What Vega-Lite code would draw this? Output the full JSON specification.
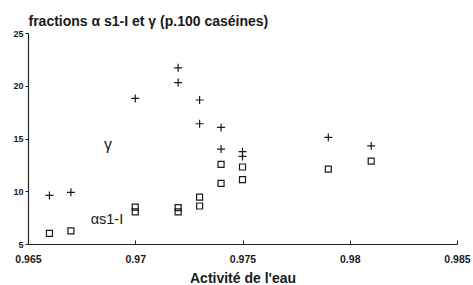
{
  "$schema": "https://vega.github.io/schema/vega-lite/v6.json",
  "autosize": "none",
  "width": 429,
  "height": 211,
  "padding": {"left": 28, "top": 33, "right": 16, "bottom": 41},
  "background": "white",
  "config": {
    "view": {"stroke": null},
    "axis": {
      "grid": false,
      "domainColor": "#222",
      "domainWidth": 1.2,
      "tickColor": "#222",
      "labelColor": "#1a1a1a",
      "titleColor": "#1a1a1a",
      "labelFont": "Liberation Sans",
      "titleFont": "Liberation Sans",
      "labelFontWeight": "bold",
      "titleFontWeight": "bold"
    }
  },
  "layer": [
    {
      "data": {
        "values": [
          {"aw": 0.966, "pct": 9.6, "fraction": "gamma"},
          {"aw": 0.967, "pct": 9.9, "fraction": "gamma"},
          {"aw": 0.970, "pct": 18.8, "fraction": "gamma"},
          {"aw": 0.972, "pct": 21.7, "fraction": "gamma"},
          {"aw": 0.972, "pct": 20.3, "fraction": "gamma"},
          {"aw": 0.973, "pct": 18.65, "fraction": "gamma"},
          {"aw": 0.973, "pct": 16.4, "fraction": "gamma"},
          {"aw": 0.974, "pct": 16.05, "fraction": "gamma"},
          {"aw": 0.974, "pct": 14.0, "fraction": "gamma"},
          {"aw": 0.975, "pct": 13.75, "fraction": "gamma"},
          {"aw": 0.975, "pct": 13.3, "fraction": "gamma"},
          {"aw": 0.979, "pct": 15.1, "fraction": "gamma"},
          {"aw": 0.981, "pct": 14.3, "fraction": "gamma"},
          {"aw": 0.966, "pct": 6.0, "fraction": "as1"},
          {"aw": 0.967, "pct": 6.25, "fraction": "as1"},
          {"aw": 0.970, "pct": 8.5, "fraction": "as1"},
          {"aw": 0.970, "pct": 8.05, "fraction": "as1"},
          {"aw": 0.972, "pct": 8.45, "fraction": "as1"},
          {"aw": 0.972, "pct": 8.05, "fraction": "as1"},
          {"aw": 0.973, "pct": 9.45, "fraction": "as1"},
          {"aw": 0.973, "pct": 8.6, "fraction": "as1"},
          {"aw": 0.974, "pct": 12.55, "fraction": "as1"},
          {"aw": 0.974, "pct": 10.75, "fraction": "as1"},
          {"aw": 0.975, "pct": 12.3, "fraction": "as1"},
          {"aw": 0.975, "pct": 11.1, "fraction": "as1"},
          {"aw": 0.979, "pct": 12.1, "fraction": "as1"},
          {"aw": 0.981, "pct": 12.85, "fraction": "as1"}
        ]
      },
      "mark": {"type": "point", "filled": false, "strokeWidth": 1.2, "color": "#1a1a1a", "opacity": 1},
      "encoding": {
        "x": {
          "field": "aw", "type": "quantitative",
          "scale": {"domain": [0.965, 0.985], "nice": false, "zero": false},
          "axis": {
            "values": [0.965, 0.97, 0.975, 0.98, 0.985],
            "format": "~g",
            "title": "Activité de l'eau",
            "titleFontSize": 14,
            "titlePadding": 7,
            "labelFontSize": 10.5,
            "labelPadding": 14,
            "tickSize": -4,
            "labelFlush": false
          }
        },
        "y": {
          "field": "pct", "type": "quantitative",
          "scale": {"domain": [5, 25], "nice": false, "zero": false},
          "axis": {
            "values": [5, 10, 15, 20, 25],
            "title": "fractions α s1-I et γ  (p.100 caséines)",
            "titleAngle": 0,
            "titleAlign": "left",
            "titleBaseline": "alphabetic",
            "titleX": 0,
            "titleY": -8,
            "titleFontSize": 14,
            "labelFontSize": 9,
            "tickSize": 3,
            "labelPadding": 2,
            "labelFlush": false
          }
        },
        "shape": {
          "field": "fraction", "type": "nominal",
          "scale": {"domain": ["gamma", "as1"], "range": ["M-1,0L1,0M0,-1L0,1", "square"]},
          "legend": null
        },
        "size": {
          "field": "fraction", "type": "nominal",
          "scale": {"domain": ["gamma", "as1"], "range": [64, 36]},
          "legend": null
        }
      }
    },
    {
      "data": {
        "values": [
          {"aw": 0.96873, "pct": 14.4, "label": "γ", "fs": 16},
          {"aw": 0.96868, "pct": 7.3, "label": "αs1-I", "fs": 14.5}
        ]
      },
      "mark": {"type": "text", "font": "Liberation Sans", "color": "#1a1a1a", "baseline": "middle", "align": "center"},
      "encoding": {
        "x": {"field": "aw", "type": "quantitative"},
        "y": {"field": "pct", "type": "quantitative"},
        "text": {"field": "label"},
        "size": {"field": "fs", "type": "quantitative", "scale": null, "legend": null}
      }
    }
  ]
}
